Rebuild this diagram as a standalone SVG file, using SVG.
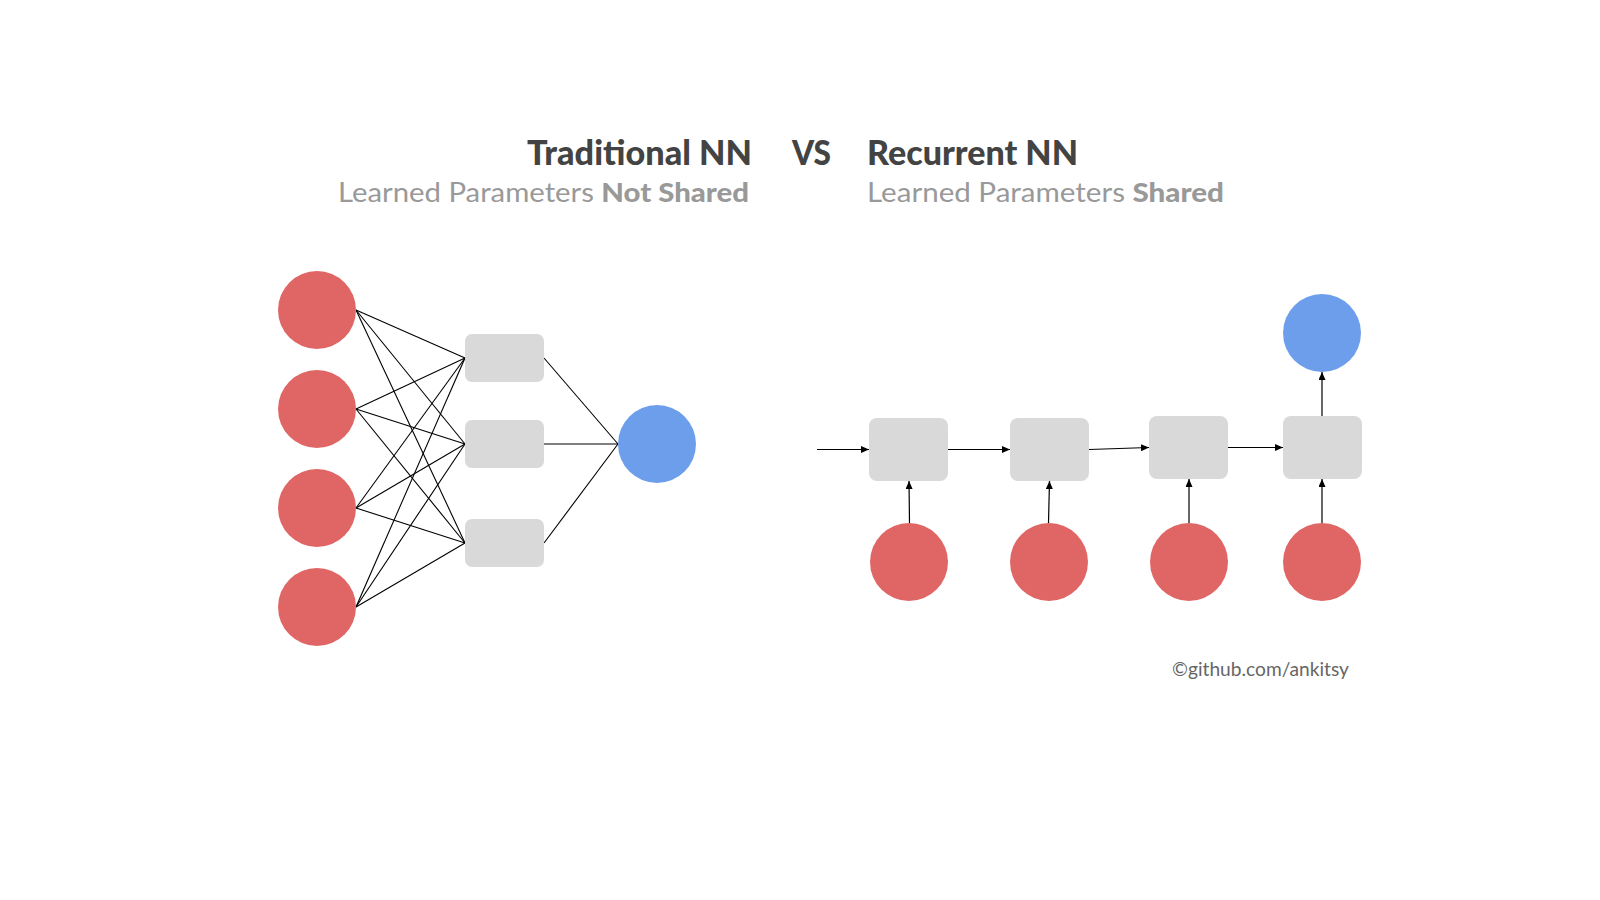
<svg xmlns="http://www.w3.org/2000/svg" width="1600" height="900" viewBox="0 0 1600 900">
  <defs>
    <marker id="arrow" markerUnits="userSpaceOnUse" markerWidth="9" markerHeight="7" refX="8" refY="3.5" orient="auto">
      <path d="M0,0 L8,3.5 L0,7 z" fill="#000"/>
    </marker>
    <style>
      .red { fill: #e06666; }
      .blue { fill: #6d9eeb; }
      .box { fill: #d9d9d9; }
      .link { stroke: #000; stroke-width: 1.1; fill: none; }
      .arr { stroke: #000; stroke-width: 1.2; fill: none; marker-end: url(#arrow); }
      .title { font-family: Lato, "Open Sans", sans-serif; font-weight: 900; font-size: 34px; fill: #434343; }
      .sub { font-family: Lato, "Open Sans", sans-serif; font-weight: 400; font-size: 27px; fill: #999999; }
      .subb { font-weight: 900; }
      .credit { font-family: Lato, "Open Sans", sans-serif; font-size: 19px; fill: #666666; }
    </style>
  </defs>
  <rect width="1600" height="900" fill="#ffffff"/>

  <g id="titles">
    <text class="title" x="527" y="165" textLength="225" lengthAdjust="spacingAndGlyphs">Traditional NN</text>
    <text class="title" x="792" y="165" textLength="39" lengthAdjust="spacingAndGlyphs">VS</text>
    <text class="title" x="867" y="165" textLength="211" lengthAdjust="spacingAndGlyphs">Recurrent NN</text>
    <text class="sub" x="338" y="202" textLength="411" lengthAdjust="spacingAndGlyphs">Learned Parameters <tspan class="subb">Not Shared</tspan></text>
    <text class="sub" x="867" y="202" textLength="357" lengthAdjust="spacingAndGlyphs">Learned Parameters <tspan class="subb">Shared</tspan></text>
    <text class="credit" x="1172" y="676" textLength="177" lengthAdjust="spacingAndGlyphs">©github.com/ankitsy</text>
  </g>

  <g id="connectors">
    <line class="link" x1="356" y1="310" x2="465" y2="358"/>
    <line class="link" x1="356" y1="310" x2="465" y2="444"/>
    <line class="link" x1="356" y1="310" x2="465" y2="543"/>
    <line class="link" x1="356" y1="409" x2="465" y2="358"/>
    <line class="link" x1="356" y1="409" x2="465" y2="444"/>
    <line class="link" x1="356" y1="409" x2="465" y2="543"/>
    <line class="link" x1="356" y1="508" x2="465" y2="358"/>
    <line class="link" x1="356" y1="508" x2="465" y2="444"/>
    <line class="link" x1="356" y1="508" x2="465" y2="543"/>
    <line class="link" x1="356" y1="607" x2="465" y2="358"/>
    <line class="link" x1="356" y1="607" x2="465" y2="444"/>
    <line class="link" x1="356" y1="607" x2="465" y2="543"/>
    <line class="link" x1="544" y1="358" x2="618" y2="444"/>
    <line class="link" x1="544" y1="444" x2="618" y2="444"/>
    <line class="link" x1="544" y1="543" x2="618" y2="444"/>

    <line class="arr" x1="817" y1="449.5" x2="869" y2="449.5"/>
    <line class="arr" x1="948" y1="449.5" x2="1010" y2="449.5"/>
    <line class="arr" x1="1089" y1="449.5" x2="1149" y2="447.5"/>
    <line class="arr" x1="1228" y1="447.5" x2="1283" y2="447.5"/>
    <line class="arr" x1="909.5" y1="523" x2="909" y2="481"/>
    <line class="arr" x1="1048.5" y1="523" x2="1049.5" y2="481"/>
    <line class="arr" x1="1189" y1="523" x2="1189" y2="479"/>
    <line class="arr" x1="1322" y1="523" x2="1322" y2="479"/>
    <line class="arr" x1="1322" y1="416" x2="1322" y2="372"/>
  </g>

  <g id="t-in1"><circle class="red" cx="317" cy="310" r="39"/></g>
  <g id="t-in2"><circle class="red" cx="317" cy="409" r="39"/></g>
  <g id="t-in3"><circle class="red" cx="317" cy="508" r="39"/></g>
  <g id="t-in4"><circle class="red" cx="317" cy="607" r="39"/></g>
  <g id="t-h1"><rect class="box" x="465" y="334" width="79" height="48" rx="7"/></g>
  <g id="t-h2"><rect class="box" x="465" y="420" width="79" height="48" rx="7"/></g>
  <g id="t-h3"><rect class="box" x="465" y="519" width="79" height="48" rx="7"/></g>
  <g id="t-out"><circle class="blue" cx="657" cy="444" r="39"/></g>

  <g id="r-h1"><rect class="box" x="869" y="418" width="79" height="63" rx="8"/></g>
  <g id="r-h2"><rect class="box" x="1010" y="418" width="79" height="63" rx="8"/></g>
  <g id="r-h3"><rect class="box" x="1149" y="416" width="79" height="63" rx="8"/></g>
  <g id="r-h4"><rect class="box" x="1283" y="416" width="79" height="63" rx="8"/></g>
  <g id="r-out"><circle class="blue" cx="1322" cy="333" r="39"/></g>
  <g id="r-in1"><circle class="red" cx="909" cy="562" r="39"/></g>
  <g id="r-in2"><circle class="red" cx="1049" cy="562" r="39"/></g>
  <g id="r-in3"><circle class="red" cx="1189" cy="562" r="39"/></g>
  <g id="r-in4"><circle class="red" cx="1322" cy="562" r="39"/></g>
</svg>
